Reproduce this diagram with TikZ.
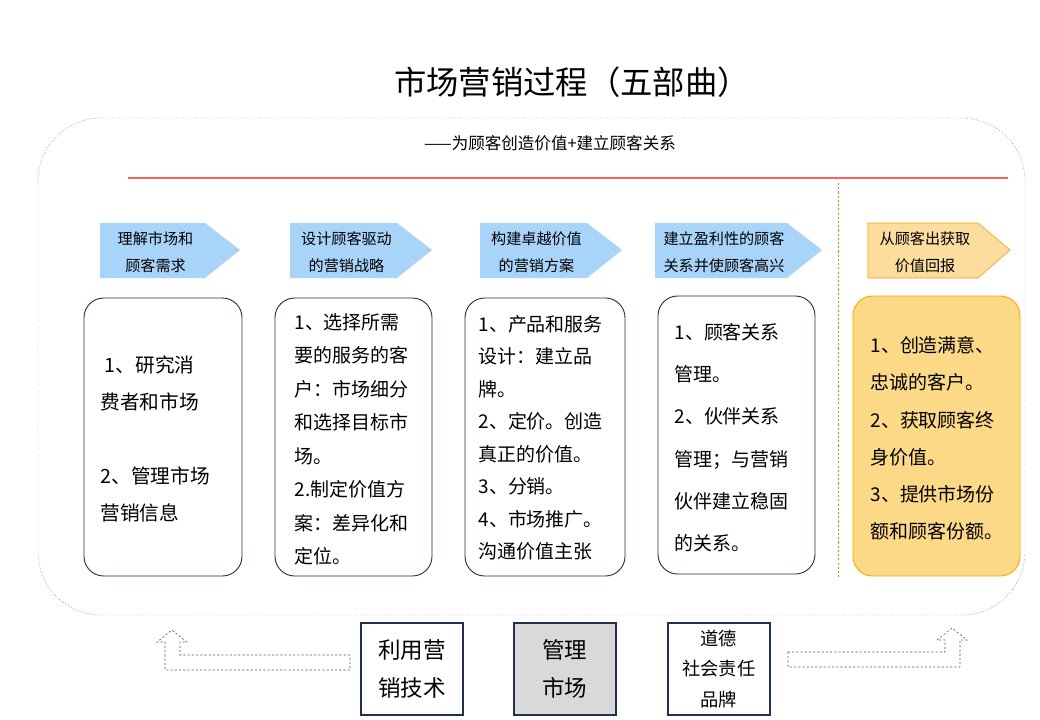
\documentclass[tikz,border=0pt]{standalone}
\usepackage{fontspec}
\setmainfont{Noto Sans CJK SC}
\definecolor{navy}{HTML}{1F3050}
\definecolor{lblue}{HTML}{A9D4FA}
\begin{document}
\begin{tikzpicture}[x=0.5mm,y=-0.5mm,
 arr/.style={fill=lblue,draw=none},
 box/.style={draw=navy,line width=1.3pt,rounded corners=28},
 txt/.style={anchor=north west,align=left},
 lab/.style={align=center,font=\fontsize{21.5}{38}\selectfont},
 bot/.style={draw=navy,line width=2.5pt,minimum width=51mm,minimum height=46mm,anchor=north west,align=center},
 hol/.style={draw=navy!80,dashed,line width=0.8pt}]
\useasboundingbox (0,0) rectangle (1040,720);
\fill[white] (0,0) rectangle (1040,720);
\draw[black!70,dotted,line width=0.6pt,rounded corners=90] (38,118) rectangle (1025,615);
\node (title) at (572,82) {\fontsize{46}{50}\selectfont 市场营销过程（五部曲）};
\node (sub) at (550,143) {\fontsize{23.5}{26}\selectfont ——为顾客创造价值+建立顾客关系};
\draw[red!50!pink,line width=1.5pt] (128,178) coordinate (pl) -- (1008,178) coordinate (pr);
\draw[orange!50!brown,dashed,line width=1.3pt] (838,183) coordinate (d1) -- (838,578) coordinate (d2);
% arrows
\foreach \a/\b/\t [count=\i] in {100/240/理解市场和\\顾客需求,290/432/设计顾客驱动\\的营销战略,480/622/构建卓越价值\\的营销方案,655/822/建立盈利性的顾客\\关系并使顾客高兴}{
 \fill[arr] (\a,223) -- ({\b-35},223) -- (\b,250) -- ({\b-35},278) -- (\a,278) -- cycle;
 \node[lab] (a\i) at ({(\a+\b-35)/2+3},252) {\t};
}
\fill[fill=yellow!30!orange!35,draw=orange!80!yellow,line width=0.8pt] (868,223) -- (978,223) -- (1010,250) -- (978,278) -- (868,278) -- cycle;
\node[lab] (a5) at (925,252) {从顾客出获取\\价值回报};
% boxes
\draw[box] (84,298) rectangle (242,576);
\draw[box] (275,298) rectangle (432,576);
\draw[box] (465,298) rectangle (625,576);
\draw[box] (658,296) rectangle (815,574);
\draw[box,fill=yellow!40!orange!45,draw=orange!70!yellow] (853,296) rectangle (1020,576);
\node[txt,font=\fontsize{28}{53}\selectfont] (t1) at (98,353) {\ 1、研究消\\费者和市场\\[52pt]2、管理市场\\营销信息};
\node[txt,font=\fontsize{27}{47.6}\selectfont] (t2) at (292,311) {1、选择所需\\要的服务的客\\户：市场细分\\和选择目标市\\场。\\2.制定价值方\\案：差异化和\\定位。};
\node[txt,font=\fontsize{27}{46.2}\selectfont] (t3) at (476,313) {1、产品和服务\\设计：建立品\\牌。\\2、定价。创造\\真正的价值。\\3、分销。\\4、市场推广。\\沟通价值主张};
\node[txt,font=\fontsize{27}{60}\selectfont] (t4) at (672,321) {1、顾客关系\\管理。\\2、伙伴关系\\管理；与营销\\伙伴建立稳固\\的关系。};
\node[txt,font=\fontsize{27}{53}\selectfont] (t5) at (868,334) {1、创造满意、\\忠诚的客户。\\2、获取顾客终\\身价值。\\3、提供市场份\\额和顾客份额。};
% bottom
\node[bot,font=\fontsize{32}{54}\selectfont] (b1) at (360,622) {利用营\\销技术};
\node[bot,fill=black!15,font=\fontsize{32}{54}\selectfont] (b2) at (513,622) {管理\\市场};
\node[bot,font=\fontsize{26}{43}\selectfont] (b3) at (667,622) {道德\\社会责任\\品牌};
\draw[hol] (350,655) -- (180,655) -- (180,642) -- (187,642) -- (172,630) -- (157,642) -- (165,642) -- (165,670) -- (350,670) -- cycle;
\draw[hol] (788,652) -- (788,667) -- (960,667) -- (960,640) -- (967,640) -- (952,628) -- (937,640) -- (945,640) -- (945,652) -- cycle;
\end{tikzpicture}
\end{document}
